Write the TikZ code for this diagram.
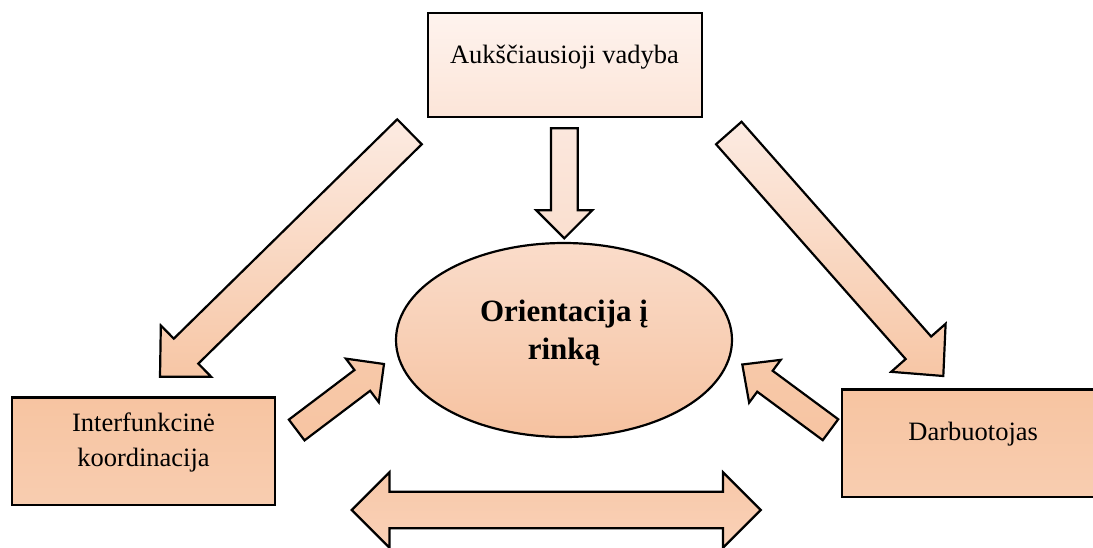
\documentclass[tikz,border=0pt]{standalone}
\usepackage{fontspec}
\setmainfont{Liberation Serif}
\usetikzlibrary{calc,shapes.geometric}

\definecolor{vadT}{HTML}{FEF3EE}
\definecolor{vadB}{HTML}{FCE5D8}
\definecolor{downT}{HTML}{FBE7DD}
\definecolor{downB}{HTML}{FADFCF}
\definecolor{diagT}{HTML}{FCEBE2}
\definecolor{diagB}{HTML}{F7C6A5}
\definecolor{ovalT}{HTML}{FADCCA}
\definecolor{ovalB}{HTML}{F6C2A0}
\definecolor{smallT}{HTML}{F7C9A9}
\definecolor{smallB}{HTML}{F7C4A2}
\definecolor{boxT}{HTML}{F7C4A1}
\definecolor{boxB}{HTML}{F8CDB0}
\definecolor{dblT}{HTML}{F8C8A9}
\definecolor{dblB}{HTML}{F9D1B7}

\begin{document}
\begin{tikzpicture}[x=1pt, y=-1pt,
	box/.style={draw, line width=2.4pt, rectangle, inner sep=0pt},
	txt/.style={font=\fontsize{26.5}{34.5}\selectfont, align=center, anchor=base},
	blk/.style n args={3}{to path={let \p1=(\tikztostart), \p2=(\tikztotarget),
		\n1={atan2(\y2-\y1,\x2-\x1)}, \n2={veclen(\x2-\x1,\y2-\y1)-#3} in
		($(\p1)+(\n1+90:#1)$) -- ($(\p1)+(\n1:\n2)+(\n1+90:#1)$)
		-- ($(\p1)+(\n1:\n2)+(\n1+90:#2)$) -- (\p2)
		-- ($(\p1)+(\n1:\n2)+(\n1-90:#2)$) -- ($(\p1)+(\n1:\n2)+(\n1-90:#1)$)
		-- ($(\p1)+(\n1-90:#1)$) -- cycle}},
	dblk/.style n args={3}{to path={let \p1=(\tikztostart), \p2=(\tikztotarget),
		\n1={atan2(\y2-\y1,\x2-\x1)}, \n2={veclen(\x2-\x1,\y2-\y1)-#3} in
		(\p1) -- ($(\p1)+(\n1:#3)+(\n1+90:#2)$) -- ($(\p1)+(\n1:#3)+(\n1+90:#1)$)
		-- ($(\p1)+(\n1:\n2)+(\n1+90:#1)$) -- ($(\p1)+(\n1:\n2)+(\n1+90:#2)$) -- (\p2)
		-- ($(\p1)+(\n1:\n2)+(\n1-90:#2)$) -- ($(\p1)+(\n1:\n2)+(\n1-90:#1)$)
		-- ($(\p1)+(\n1:#3)+(\n1-90:#1)$) -- ($(\p1)+(\n1:#3)+(\n1-90:#2)$) -- cycle}},
	arr/.style={draw, line width=2.2pt}
]
	\useasboundingbox (0,0) rectangle (1093,547);
	\clip (0,0) rectangle (1093,547);

	% boxes and the oval
	\node[box, minimum width=274pt, minimum height=104.3pt, top color=vadT, bottom color=vadB] (vadyba) at (564.7,64.9) {};
	\node[box, minimum width=263pt, minimum height=107.7pt, top color=boxT, bottom color=boxB] (koord) at (143.5,451.2) {};
	\node[box, minimum width=263pt, minimum height=107.5pt, top color=boxT, bottom color=boxB] (darb) at (973.5,443.3) {};
	\node[draw, ellipse, line width=2.2pt, inner sep=0pt, minimum width=336pt, minimum height=194pt,
		top color=ovalT, bottom color=ovalB] (rinka) at (564,340) {};

	\node[txt] (vadybaT) at (564.5,63.3) {Aukščiausioji vadyba};
	\node[txt] (koordT) at (143.5,466) {Interfunkcinė\\koordinacija};
	\node[txt] (darbT) at (973.2,440.7) {Darbuotojas};
	\node[txt, font=\fontsize{31}{38.3}\selectfont\bfseries] (rinkaT) at (564,359.3) {Orientacija į\\rinką};

	% arrow ends
	\coordinate (topS) at (564.3,128.3);   \coordinate (topE) at (564.3,238.3);
	\coordinate (leftS) at (409.5,131.8);  \coordinate (leftE) at (160,376.7);
	\coordinate (rightS) at (728.8,133);   \coordinate (rightE) at (943.3,376);
	\coordinate (koordS) at (296.7,430);   \coordinate (koordE) at (384,364);
	\coordinate (darbS) at (830.5,429.7);  \coordinate (darbE) at (742.3,364.5);
	\coordinate (bothL) at (351.7,510);    \coordinate (bothR) at (760.7,510);

	\path[arr, top color=downT, bottom color=downB] (topS) to[blk={13.4pt}{28pt}{28pt}] (topE);
	\path[arr, top color=diagT, bottom color=diagB] (leftS) to[blk={17.5pt}{36pt}{36.5pt}] (leftE);
	\path[arr, top color=diagT, bottom color=diagB] (rightS) to[blk={17pt}{36.3pt}{37.6pt}] (rightE);
	\path[arr, top color=smallT, bottom color=smallB] (koordS) to[blk={13pt}{27.3pt}{27pt}] (koordE);
	\path[arr, top color=smallT, bottom color=smallB] (darbS) to[blk={13pt}{26.6pt}{28pt}] (darbE);
	\path[arr, top color=dblT, bottom color=dblB] (bothL) to[dblk={18.3pt}{37.7pt}{37.7pt}] (bothR);
\end{tikzpicture}
\end{document}
